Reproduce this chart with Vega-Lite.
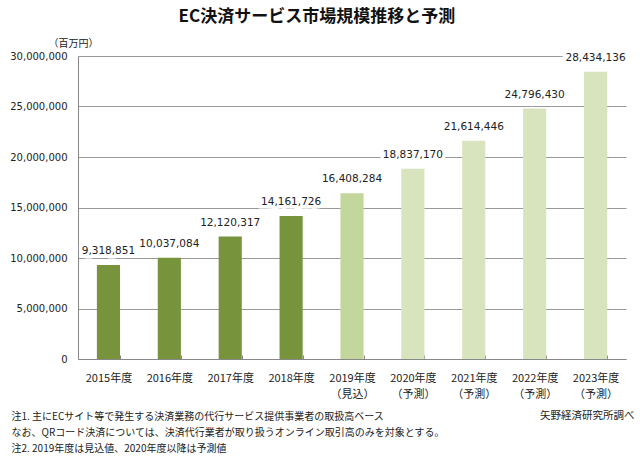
{
  "$schema": "https://vega.github.io/schema/vega-lite/v6.json",
  "autosize": {"type": "none"},
  "width": 548,
  "height": 303,
  "padding": {"left": 78, "top": 56, "right": 14, "bottom": 98},
  "background": "white",
  "config": {"view": {"stroke": null}, "font": "Noto Sans CJK JP"},
  "title": {
    "text": "EC決済サービス市場規模推移と予測",
    "font": "Noto Sans CJK JP",
    "fontSize": 17,
    "fontWeight": "bold",
    "color": "#111",
    "anchor": "middle",
    "frame": "bounds",
    "dx": -5,
    "offset": 12
  },
  "data": {
    "values": [
      {"label": "2015年度", "value": 9318851, "type": "実績"},
      {"label": "2016年度", "value": 10037084, "type": "実績"},
      {"label": "2017年度", "value": 12120317, "type": "実績"},
      {"label": "2018年度", "value": 14161726, "type": "実績"},
      {"label": "2019年度\n（見込）", "value": 16408284, "type": "見込"},
      {"label": "2020年度\n（予測）", "value": 18837170, "type": "予測"},
      {"label": "2021年度\n（予測）", "value": 21614446, "type": "予測"},
      {"label": "2022年度\n（予測）", "value": 24796430, "type": "予測"},
      {"label": "2023年度\n（予測）", "value": 28434136, "type": "予測"}
    ]
  },
  "encoding": {
    "x": {
      "field": "label",
      "type": "nominal",
      "sort": null,
      "scale": {"paddingInner": 0.62, "paddingOuter": 0.31},
      "axis": {
        "labelAngle": 0,
        "labelExpr": "datum.value ? split(datum.value, '\\n') : ''",
        "labelFont": "Noto Sans CJK JP",
        "labelFontSize": 11,
        "labelColor": "#222",
        "labelPadding": 17,
        "labelLineHeight": 16,
        "labelBaseline": "top",
        "tickBand": "extent",
        "tickSize": -4,
        "tickColor": "#888",
        "domainColor": "#888",
        "title": [
          "注1.  主にECサイト等で発生する決済業務の代行サービス提供事業者の取扱高ベース",
          "なお、QRコード決済については、決済代行業者が取り扱うオンライン取引高のみを対象とする。",
          "注2.  2019年度は見込値、2020年度以降は予測値"
        ],
        "titleFont": "Noto Sans CJK JP",
        "titleFontSize": 10,
        "titleFontWeight": "normal",
        "titleColor": "#222",
        "titleAnchor": "start",
        "titleAlign": "left",
        "titleBaseline": "top",
        "titleLineHeight": 16,
        "titleX": -67,
        "titleY": 52
      }
    }
  },
  "layer": [
    {
      "layer": [
        {
          "mark": {"type": "bar"},
          "encoding": {
            "y": {
              "field": "value",
              "type": "quantitative",
              "scale": {"domain": [0, 30000000]},
              "axis": {
                "values": [0, 5000000, 10000000, 15000000, 20000000, 25000000, 30000000],
                "format": ",d",
                "labelFont": "DejaVu Sans",
                "labelFontSize": 10,
                "labelColor": "#222",
                "labelPadding": 11,
                "ticks": false,
                "grid": true,
                "gridColor": "#999",
                "domainColor": "#888",
                "title": "（百万円）",
                "titleAngle": 0,
                "titleFont": "Noto Sans CJK JP",
                "titleFontSize": 10,
                "titleFontWeight": "normal",
                "titleColor": "#222",
                "titleAlign": "center",
                "titleBaseline": "middle",
                "titleX": -5,
                "titleY": -13
              }
            },
            "color": {
              "field": "type",
              "type": "nominal",
              "scale": {"domain": ["実績", "見込", "予測"], "range": ["#77933C", "#C3D69B", "#D7E4BD"]},
              "legend": null
            }
          }
        },
        {
          "mark": {"type": "text", "dy": -14, "font": "DejaVu Sans", "fontSize": 10.5, "stroke": "white", "strokeWidth": 7, "fill": "white", "baseline": "middle"},
          "encoding": {
            "y": {"field": "value", "type": "quantitative"},
            "text": {"field": "value", "type": "quantitative", "format": ","}
          }
        },
        {
          "mark": {"type": "text", "dy": -14, "font": "DejaVu Sans", "fontSize": 10.5, "color": "#222", "baseline": "middle"},
          "encoding": {
            "y": {"field": "value", "type": "quantitative"},
            "text": {"field": "value", "type": "quantitative", "format": ","}
          }
        }
      ]
    },
    {
      "mark": {"type": "rule", "opacity": 0},
      "encoding": {
        "y": {
          "field": "value",
          "type": "quantitative",
          "axis": {
            "orient": "right",
            "labels": false,
            "ticks": false,
            "domain": false,
            "grid": false,
            "title": "矢野経済研究所調べ",
            "titleAngle": 0,
            "titleFont": "Noto Sans CJK JP",
            "titleFontSize": 10.5,
            "titleFontWeight": "normal",
            "titleColor": "#222",
            "titleAlign": "right",
            "titleBaseline": "middle",
            "titleX": 8,
            "titleY": 359
          }
        }
      }
    }
  ],
  "resolve": {"axis": {"y": "independent"}}
}
